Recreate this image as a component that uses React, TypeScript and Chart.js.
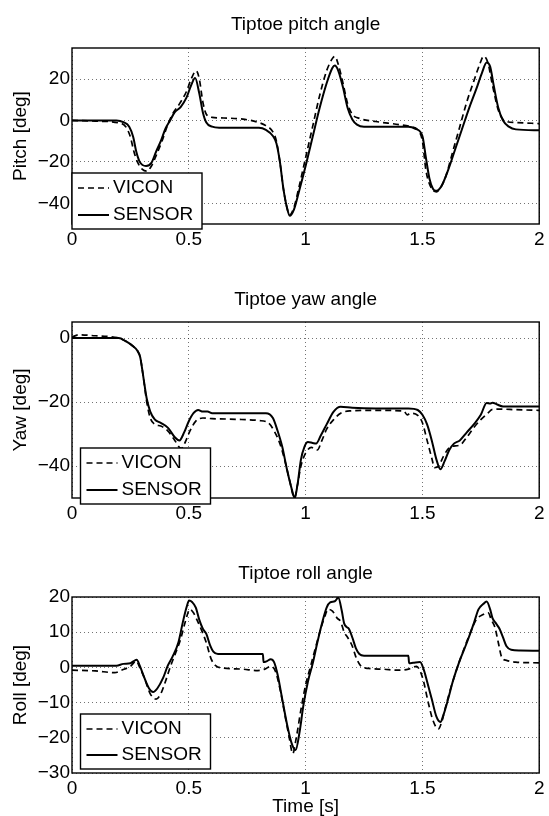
import React, { useEffect, useRef } from 'react';
import { Chart, registerables } from 'chart.js';

Chart.register(...registerables);

const FONT = '"Liberation Sans", Arial, Helvetica, sans-serif';

// ---------- tick labels ----------
const timeTicks = [0, 0.5, 1, 1.5, 2];
const pitchTicks = [-40, -20, 0, 20];
const yawTicks = [-40, -20, 0];
const rollTicks = [-30, -20, -10, 0, 10, 20];

const seriesNames = ['VICON', 'SENSOR'];

// ---------- pitch ----------
const pitchViconT = [0, 0.1, 0.2, 0.23, 0.25, 0.265, 0.28, 0.3, 0.32, 0.34, 0.36, 0.385, 0.41, 0.43, 0.46, 0.49, 0.51, 0.532, 0.545, 0.56, 0.575, 0.6, 0.65, 0.74, 0.8, 0.83, 0.86, 0.875, 0.89, 0.905, 0.92, 0.932, 0.95, 0.97, 1.0, 1.03, 1.06, 1.09, 1.115, 1.125, 1.14, 1.16, 1.18, 1.2, 1.23, 1.3, 1.4, 1.45, 1.48, 1.5, 1.515, 1.535, 1.56, 1.58, 1.6, 1.63, 1.66, 1.69, 1.72, 1.745, 1.762, 1.78, 1.8, 1.825, 1.85, 1.9, 2.0];
const pitchVicon = [0, -0.3, -1.2, -3, -8, -15, -20, -23.5, -24.5, -22, -17, -10, -2, 3, 8, 14, 20, 24, 20, 9, 3, 1.5, 1.2, 0.5, -1, -2.5, -5.5, -10, -20, -33, -42, -45.5, -42, -33, -18, -3, 12, 24, 30, 31, 27, 18, 8, 3, 1, -0.5, -2, -3, -4.5, -10, -24, -32, -34.5, -32, -27, -15, -3, 9, 19, 27, 31, 28, 17, 5, 0, -1, -1.5];

const pitchSensorT = [0, 0.1, 0.19, 0.22, 0.245, 0.262, 0.275, 0.29, 0.317, 0.34, 0.36, 0.38, 0.4, 0.42, 0.44, 0.465, 0.49, 0.51, 0.527, 0.545, 0.56, 0.575, 0.6, 0.63, 0.7, 0.8, 0.83, 0.86, 0.875, 0.89, 0.905, 0.92, 0.932, 0.95, 0.97, 1.0, 1.03, 1.06, 1.09, 1.115, 1.125, 1.14, 1.16, 1.18, 1.2, 1.22, 1.25, 1.35, 1.44, 1.47, 1.5, 1.515, 1.53, 1.545, 1.558, 1.58, 1.61, 1.64, 1.67, 1.7, 1.73, 1.755, 1.775, 1.79, 1.805, 1.825, 1.845, 1.87, 1.9, 2.0];
const pitchSensor = [0, 0, 0, -0.8, -3, -8, -15, -20, -22, -20.5, -15, -10, -4, 0, 4, 6.5, 11, 17, 20.5, 13, 4, -1, -3, -3.5, -3.5, -3.5, -4.5, -7.5, -11, -20, -33, -42, -46, -43, -35, -22, -8, 6, 18, 25.5, 26.5, 24, 16, 6, 0.5, -2, -3, -3, -3, -4, -7.5, -18, -28, -33, -34, -32, -24, -14, -4, 6, 15, 23, 28, 26, 17, 6, 0, -3, -4.3, -4.7];

// ---------- yaw ----------
const yawViconT = [0, 0.03, 0.1, 0.15, 0.2, 0.23, 0.26, 0.28, 0.292, 0.305, 0.32, 0.335, 0.355, 0.38, 0.41, 0.44, 0.467, 0.485, 0.505, 0.53, 0.56, 0.6, 0.7, 0.8, 0.84, 0.865, 0.89, 0.91, 0.93, 0.953, 0.965, 0.98, 1.0, 1.025, 1.05, 1.07, 1.09, 1.12, 1.15, 1.19, 1.3, 1.42, 1.435, 1.45, 1.48, 1.5, 1.52, 1.54, 1.552, 1.57, 1.59, 1.62, 1.66, 1.69, 1.72, 1.75, 1.78, 1.8, 1.83, 1.9, 2.0];
const yawVicon = [0.3, 1, 0.7, 0.5, 0, -1, -2.5, -4, -6, -12, -20, -25, -27, -27.5, -29, -32, -34.5, -32.5, -29, -26, -25, -25.2, -25.4, -25.8, -26.5, -29, -33, -38, -44, -50, -46, -40, -36, -34.2, -35, -32, -28.5, -25.5, -23.5, -22.8, -22.6, -22.8, -24, -23.5, -24.2, -26.5, -32, -37.5, -40.5, -40, -37, -34, -33.5, -31, -28, -25.5, -23.5, -22.3, -22.2, -22.4, -22.6];

const yawSensorT = [0, 0.1, 0.2, 0.23, 0.26, 0.28, 0.292, 0.305, 0.32, 0.335, 0.355, 0.38, 0.41, 0.44, 0.46, 0.48, 0.5, 0.52, 0.54, 0.56, 0.58, 0.6, 0.7, 0.83, 0.86, 0.88, 0.9, 0.92, 0.94, 0.953, 0.965, 0.98, 0.995, 1.01, 1.03, 1.045, 1.065, 1.09, 1.12, 1.15, 1.2, 1.3, 1.44, 1.48, 1.5, 1.52, 1.54, 1.56, 1.577, 1.595, 1.615, 1.635, 1.66, 1.69, 1.72, 1.75, 1.775, 1.79, 1.8, 1.82, 1.845, 2.0];
const yawSensor = [0, 0, 0, -1, -2.5, -4, -6, -12, -19, -23, -25.5, -26.5, -28, -31, -32, -29.5, -26, -23.5, -22.5, -23, -23, -23.5, -23.5, -23.5, -25, -29, -34, -41, -47, -50, -46, -38, -34, -32.5, -32.8, -33, -30.5, -27, -23, -21.5, -21.8, -22, -22, -22.5, -24, -27, -32, -38, -41, -38.5, -35, -33, -32, -29.5, -27, -24, -20.3, -20.5, -20.2, -20.8, -21.4, -21.4];

// ---------- roll ----------
const rollViconT = [0, 0.1, 0.183, 0.212, 0.25, 0.275, 0.29, 0.31, 0.335, 0.36, 0.38, 0.4, 0.42, 0.44, 0.465, 0.485, 0.505, 0.52, 0.535, 0.555, 0.575, 0.595, 0.615, 0.65, 0.73, 0.795, 0.825, 0.85, 0.87, 0.89, 0.91, 0.93, 0.945, 0.96, 0.98, 1.0, 1.02, 1.04, 1.065, 1.085, 1.095, 1.115, 1.135, 1.15, 1.165, 1.18, 1.2, 1.215, 1.235, 1.27, 1.33, 1.395, 1.44, 1.475, 1.49, 1.505, 1.525, 1.545, 1.568, 1.585, 1.6, 1.63, 1.66, 1.7, 1.73, 1.76, 1.782, 1.795, 1.81, 1.825, 1.84, 1.86, 1.9, 2.0];
const rollVicon = [-0.8, -1, -1.5, -0.8, 0.3, 1.8, 0, -3, -7.5, -9, -7.5, -4, 0, 3.5, 8, 13, 16.5, 15.5, 13.5, 10.5, 7, 2.5, 0.5, -0.2, -0.5, -0.9, -0.5, 0.3, -1, -6, -13, -20, -24.5, -20, -12, -5, 0, 5, 11, 15, 16.5, 16, 14, 13, 10, 8.5, 6, 3, 0.5, -0.3, -0.5, -0.8, -0.5, 0.3, -1, -4, -10, -15, -17.5, -15, -11, -4, 2, 9, 13.5, 15, 15.5, 13.5, 11.5, 7, 2.8, 2, 1.5, 1.3];

const rollSensorT = [0, 0.1, 0.19, 0.22, 0.25, 0.265, 0.277, 0.29, 0.31, 0.33, 0.347, 0.365, 0.39, 0.41, 0.43, 0.455, 0.475, 0.49, 0.501, 0.515, 0.53, 0.545, 0.56, 0.575, 0.59, 0.605, 0.625, 0.7, 0.817, 0.82, 0.835, 0.85, 0.865, 0.88, 0.9, 0.92, 0.94, 0.957, 0.975, 0.99, 1.01, 1.03, 1.05, 1.07, 1.09, 1.105, 1.125, 1.14, 1.155, 1.165, 1.175, 1.185, 1.2, 1.215, 1.23, 1.25, 1.35, 1.44, 1.443, 1.46, 1.49, 1.505, 1.52, 1.54, 1.56, 1.577, 1.59, 1.61, 1.63, 1.66, 1.69, 1.72, 1.74, 1.76, 1.775, 1.79, 1.8, 1.815, 1.83, 1.845, 1.86, 1.88, 1.92, 2.0];
const rollSensor = [0.5, 0.5, 0.5, 1, 1.2, 1.8, 2.2, 0.5, -3, -6, -7, -6, -3, 0.5, 3, 7, 13, 17, 19, 18.5, 17, 13.5, 11, 9.5, 6.5, 4.5, 3.8, 3.8, 3.8, 1.5, 1.8, 2.3, 1.5, -2, -9, -16, -21.5, -23.5, -18, -11, -4, 1, 7, 12.5, 17, 18.5, 18.8, 19.8, 16, 12.5, 11.5, 11, 8.5, 5.5, 3.8, 3.3, 3.3, 3.3, 1.2, 1.3, 1.5, -0.5, -4, -9, -14, -15.5, -13.5, -9, -4, 2, 7, 12.5, 16.5, 18, 18.7, 16.5, 14, 12.5, 11, 8.5, 6, 5, 4.8, 4.7];

const toXY = (t: number[], v: number[]) => t.map((x, i) => ({ x, y: v[i] }));
const fmtTick = (v: number) => (v < 0 ? '\u2212' + Math.abs(v) : String(v));

const matlabBox = {
  id: 'matlabBox',
  afterDatasetsDraw(chart: any, _args: any, opts: any) {
    const { ctx, chartArea: a } = chart;
    ctx.save();
    ctx.setLineDash([]);
    ctx.strokeStyle = '#000';
    ctx.lineWidth = 1.4;
    ctx.strokeRect(a.left, a.top, a.right - a.left, a.bottom - a.top);
    // legend
    const lx = a.left + opts.dx;
    const ly = a.bottom + opts.dy - opts.h;
    ctx.fillStyle = '#fff';
    ctx.fillRect(lx, ly, opts.w, opts.h);
    ctx.lineWidth = 1.4;
    ctx.strokeRect(lx, ly, opts.w, opts.h);
    chart.data.datasets.forEach((ds: any, i: number) => {
      const cy = ly + opts.rows[i];
      ctx.beginPath();
      ctx.setLineDash(ds.borderDash || []);
      ctx.lineWidth = ds.borderWidth;
      ctx.strokeStyle = ds.borderColor;
      ctx.moveTo(lx + 6, cy);
      ctx.lineTo(lx + 37, cy);
      ctx.stroke();
      ctx.setLineDash([]);
      ctx.fillStyle = '#000';
      ctx.font = `19px ${FONT}`;
      ctx.textBaseline = 'middle';
      ctx.textAlign = 'left';
      ctx.fillText(ds.label, lx + 41, cy);
    });
    ctx.restore();
  },
};

type PanelProps = {
  top: number;
  height: number;
  title: string;
  yLabel: string;
  yMin: number;
  yMax: number;
  yTicks: number[];
  vT: number[];
  v: number[];
  sT: number[];
  s: number[];
  plotTop: number;
  plotBottom: number;
  titleCenter: number;
  legend: { dx: number; dy: number; w: number; h: number; rows: number[] };
  xTitle?: string;
};

function Panel(p: PanelProps) {
  const ref = useRef<HTMLCanvasElement>(null);
  useEffect(() => {
    if (!ref.current) return;
    const lh = 19 * 1.2;
    const titlePadTop = p.titleCenter - lh / 2;
    const titlePadBottom = p.plotTop - p.titleCenter - lh / 2;
    const xAxisH = p.height - p.plotBottom;
    const gridColor = 'rgba(0,0,0,0.55)';
    const chart = new Chart(ref.current, {
      type: 'line',
      data: {
        datasets: [
          {
            label: seriesNames[0],
            data: toXY(p.vT, p.v),
            borderColor: '#000',
            borderWidth: 1.7,
            borderDash: [6, 4],
            pointRadius: 0,
            fill: false,
            cubicInterpolationMode: 'monotone',
          },
          {
            label: seriesNames[1],
            data: toXY(p.sT, p.s),
            borderColor: '#000',
            borderWidth: 2,
            pointRadius: 0,
            fill: false,
            cubicInterpolationMode: 'monotone',
          },
        ],
      },
      options: {
        responsive: false,
        animation: false,
        devicePixelRatio: 1,
        layout: { padding: { left: 0, right: 8, top: 0, bottom: 0 } },
        plugins: {
          legend: { display: false },
          tooltip: { enabled: false },
          title: {
            display: true,
            text: p.title,
            fullSize: false,
            color: '#000',
            font: { family: FONT, size: 19, weight: 'normal', lineHeight: 1.2 },
            padding: { top: titlePadTop, bottom: titlePadBottom },
          },
          matlabBox: p.legend,
        } as any,
        scales: {
          x: {
            type: 'linear',
            min: 0,
            max: 2,
            afterBuildTicks: (s: any) => {
              s.ticks = timeTicks.map((value) => ({ value }));
            },
            afterFit: (s: any) => {
              s.height = xAxisH;
            },
            grid: { color: gridColor, lineWidth: 1, drawTicks: false },
            border: { display: false, dash: [1, 3] },
            ticks: {
              color: '#000',
              padding: 4.5,
              maxRotation: 0,
              autoSkip: false,
              font: { family: FONT, size: 19, lineHeight: 1.2 },
              callback: (v: any) => fmtTick(Number(v)),
            },
            title: {
              display: !!p.xTitle,
              text: p.xTitle || '',
              color: '#000',
              font: { family: FONT, size: 19, lineHeight: 1 },
              padding: { top: 0, bottom: 0 },
            },
          },
          y: {
            type: 'linear',
            min: p.yMin,
            max: p.yMax,
            afterBuildTicks: (s: any) => {
              s.ticks = p.yTicks.map((value) => ({ value }));
            },
            afterFit: (s: any) => {
              s.width = 72;
            },
            grid: { color: gridColor, lineWidth: 1, drawTicks: false },
            border: { display: false, dash: [1, 3] },
            ticks: {
              color: '#000',
              padding: 2,
              autoSkip: false,
              font: { family: FONT, size: 19, lineHeight: 1.2 },
              callback: (v: any) => fmtTick(Number(v)),
            },
            title: {
              display: true,
              text: p.yLabel,
              color: '#000',
              font: { family: FONT, size: 19, lineHeight: 1 },
              padding: { top: 11.5, bottom: 0 },
            },
          },
        },
      } as any,
      plugins: [matlabBox as any],
    });
    return () => chart.destroy();
  }, []);
  return (
    <canvas
      ref={ref}
      width={549}
      height={p.height}
      style={{ position: 'absolute', left: 0, top: p.top, width: 549, height: p.height, display: 'block' }}
    />
  );
}

export default function App() {
  return (
    <div style={{ position: 'absolute', left: 0, top: 0, width: 549, height: 816, background: '#fff', overflow: 'hidden' }}>
      <Panel
        top={0}
        height={272}
        title="Tiptoe pitch angle"
        yLabel="Pitch [deg]"
        yMin={-50}
        yMax={35}
        yTicks={pitchTicks}
        vT={pitchViconT}
        v={pitchVicon}
        sT={pitchSensorT}
        s={pitchSensor}
        plotTop={48}
        plotBottom={224}
        titleCenter={24.3}
        legend={{ dx: 0, dy: 5, w: 130, h: 56, rows: [15, 42] }}
      />
      <Panel
        top={272}
        height={272}
        title="Tiptoe yaw angle"
        yLabel="Yaw [deg]"
        yMin={-50}
        yMax={5}
        yTicks={yawTicks}
        vT={yawViconT}
        v={yawVicon}
        sT={yawSensorT}
        s={yawSensor}
        plotTop={50}
        plotBottom={226}
        titleCenter={27.3}
        legend={{ dx: 8.5, dy: 6, w: 130, h: 56, rows: [15, 42] }}
      />
      <Panel
        top={544}
        height={272}
        title="Tiptoe roll angle"
        yLabel="Roll [deg]"
        yMin={-30}
        yMax={20}
        yTicks={rollTicks}
        vT={rollViconT}
        v={rollVicon}
        sT={rollSensorT}
        s={rollSensor}
        plotTop={53}
        plotBottom={229}
        titleCenter={29.8}
        legend={{ dx: 8.5, dy: -4, w: 130, h: 55, rows: [15, 41] }}
        xTitle="Time [s]"
      />
    </div>
  );
}
